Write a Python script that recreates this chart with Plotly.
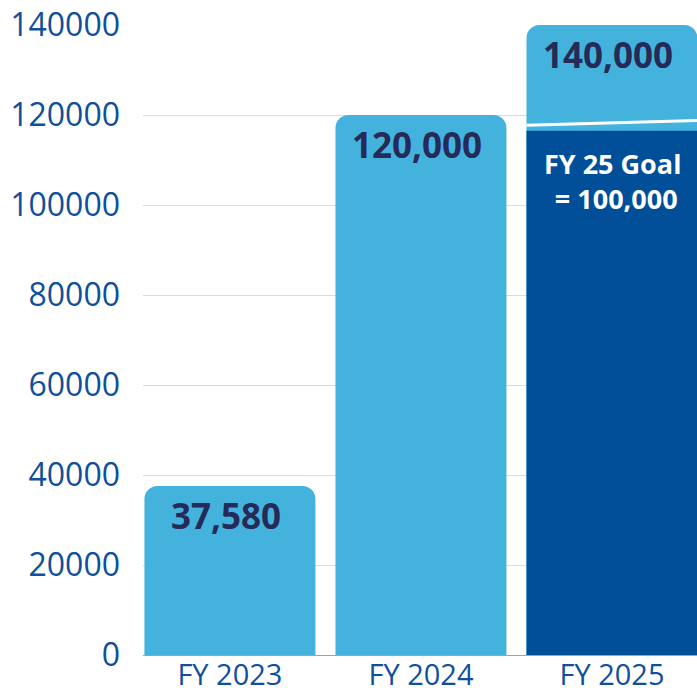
import plotly.graph_objects as go

categories = ["FY 2023", "FY 2024", "FY 2025"]
totals = [37580, 120000, 140000]
total_labels = ["37,580", "120,000", "140,000"]
goal_category = "FY 2025"
goal_drawn_value = 116500
goal_label = "FY 25 Goal<br> = 100,000"
y_ticks = [0, 20000, 40000, 60000, 80000, 100000, 120000, 140000]

LIGHT = "#43b3de"
DARK = "#004f98"
NAVY = "#252a57"
AXIS_BLUE = "#0f4f9b"
BAR_W = 0.895

fig = go.Figure()
fig.add_trace(go.Bar(
    x=categories, y=totals, width=BAR_W,
    marker=dict(color=LIGHT, cornerradius=13, line=dict(width=0)),
    hoverinfo="skip", showlegend=False,
))
fig.add_trace(go.Bar(
    x=[goal_category], y=[goal_drawn_value], width=BAR_W,
    marker=dict(color=DARK, cornerradius=13, line=dict(width=0)),
    hoverinfo="skip", showlegend=False,
))

# value labels
for c, v, t in zip(categories, totals, total_labels):
    fig.add_annotation(x=c, y=v, text=f"<b>{t}</b>", showarrow=False,
                       yanchor="top", yshift=-4, xshift=-4,
                       font=dict(family="Open Sans", size=35, color=NAVY))

fig.add_annotation(x=goal_category, y=goal_drawn_value, text=f"<b>{goal_label}</b>",
                   showarrow=False, yanchor="top", yshift=-12, xshift=1,
                   align="center",
                   font=dict(family="Open Sans", size=27, color="white"))

# white slanted separator above goal bar
idx = categories.index(goal_category)
fig.add_shape(type="line", xref="x", yref="y",
              x0=idx - BAR_W / 2, x1=idx + BAR_W / 2,
              y0=goal_drawn_value + 1200, y1=goal_drawn_value + 2300,
              line=dict(color="white", width=3))

fig.update_layout(
    width=697, height=696,
    margin=dict(l=143, r=0, t=25, b=41, autoexpand=False),
    barmode="overlay",
    plot_bgcolor="white", paper_bgcolor="white",
    xaxis=dict(
        range=[-0.455, 2.445], automargin=False,
        tickfont=dict(family="Open Sans", size=29, color=AXIS_BLUE),
        showgrid=False, showline=True, linecolor="#8ea6c6", linewidth=1,
        ticks="", fixedrange=True, ticklabelstandoff=-6,
    ),
    yaxis=dict(
        range=[0, 140000], tickvals=y_ticks, ticktext=[str(v) for v in y_ticks],
        automargin=False,
        tickfont=dict(family="Open Sans", size=32, color=AXIS_BLUE),
        showgrid=True, gridcolor="#d3dce8", gridwidth=1,
        zeroline=False, showline=False, ticks="",
        ticklabelstandoff=22, ticklabeloverflow="allow",
    ),
)

fig.write_html(
    "out.html",
    config={"displayModeBar": False},
    post_script="document.body.style.margin='0';document.body.style.overflow='hidden';",
)
